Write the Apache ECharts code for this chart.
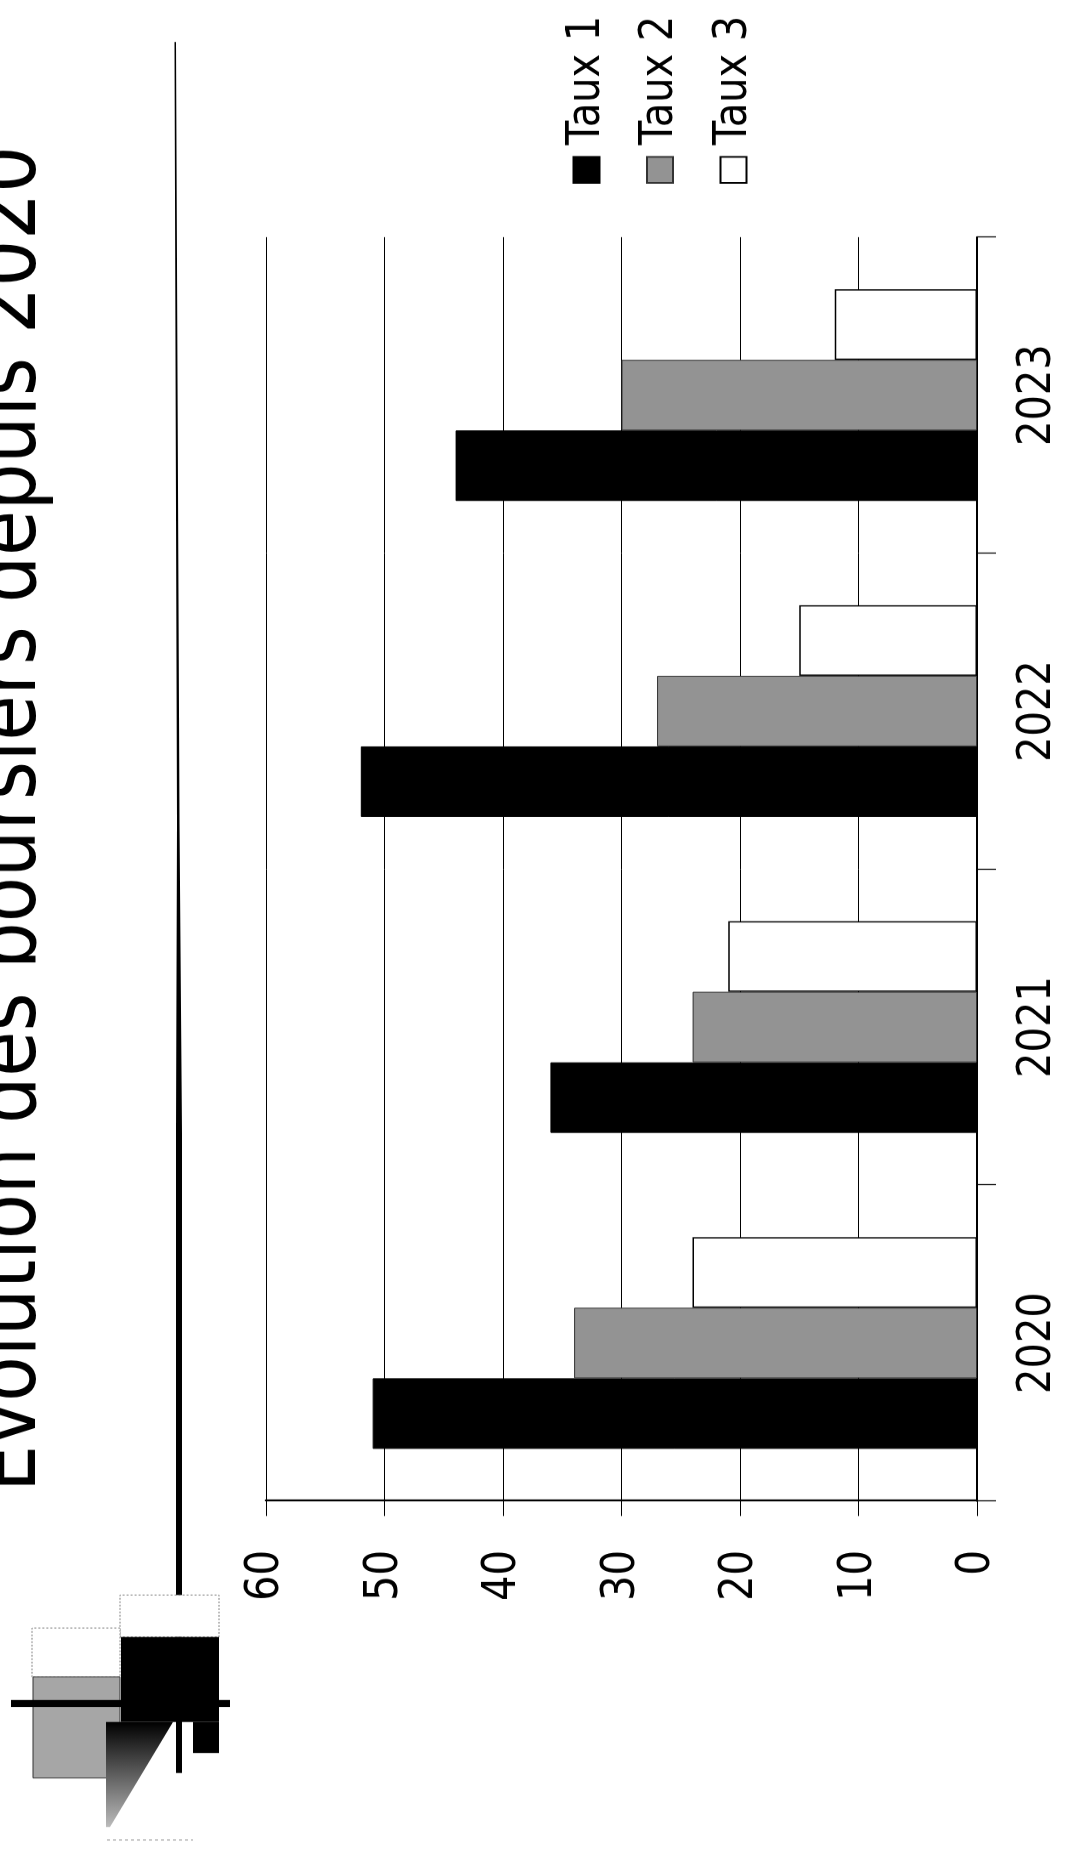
<!DOCTYPE html>
<html>
<head>
<meta charset="utf-8">
<title>Evolution des boursiers depuis 2020</title>
<script src="https://cdn.jsdelivr.net/npm/echarts@6/dist/echarts.min.js"></script>
<style>
    html, body {
        margin: 0;
        padding: 0;
        width: 1072px;
        height: 1854px;
        overflow: hidden;
        background: #fff;
    }
    /* the page is a scan turned a quarter turn, so the chart is drawn flat and rotated;
       scaleX narrows the lettering the way the scan shows it */
    #chart {
        position: absolute;
        left: 0;
        top: 1854px;
        width: 2181px;
        height: 1072px;
        transform-origin: 0 0;
        transform: rotate(-90deg) scaleX(0.85);
    }
</style>
</head>
<body>
<div id="chart"></div>
<script>
// data
const categories = ['2020', '2021', '2022', '2023']
const seriesNames = ['Taux 1', 'Taux 2', 'Taux 3']
const taux1 = [51, 36, 52, 44]
const taux2 = [34, 24, 27, 30]
const taux3 = [24, 21, 15, 12]
const titleText = 'Evolution des boursiers depuis 2020'

const SX = 0.85
const FONT = '"DejaVu Sans", sans-serif'
// horizontal distances are given as seen on the page, then undone for the scaleX
const sx = v => v / SX

let myChart = echarts.init(document.getElementById('chart'), null, { renderer: 'canvas' })

let option = {
    animation: false,
    backgroundColor: '#fff',
    title: {
        text: titleText,
        left: sx(362),
        top: -31,
        padding: 0,
        textStyle: {
            fontFamily: FONT,
            fontSize: 87,
            lineHeight: 87,
            fontWeight: 'normal',
            color: '#000'
        }
    },
    legend: {
        orient: 'vertical',
        left: sx(1666),
        top: 558,
        itemWidth: sx(26),
        itemHeight: 26,
        itemGap: 26.5,
        icon: 'rect',
        data: seriesNames,
        textStyle: {
            fontFamily: FONT,
            fontSize: 47,
            lineHeight: 47,
            color: '#000',
            padding: [0, 0, 0, 9]
        }
    },
    grid: {
        left: sx(353),
        right: sx(237),
        top: 266,
        bottom: 95,
        containLabel: false
    },
    xAxis: {
        type: 'category',
        data: categories,
        boundaryGap: true,
        axisLine: {
            show: true,
            lineStyle: { color: '#000', width: 2 }
        },
        axisTick: {
            show: true,
            length: 19,
            lineStyle: { color: '#000', width: 1.3 }
        },
        axisLabel: {
            margin: 37,
            fontFamily: FONT,
            fontSize: 47,
            color: '#000'
        },
        splitLine: { show: false }
    },
    yAxis: {
        type: 'value',
        min: 0,
        max: 60,
        interval: 10,
        axisLine: {
            show: true,
            lineStyle: { color: '#000', width: 2.3 }
        },
        axisTick: {
            show: true,
            length: sx(15),
            lineStyle: { color: '#000', width: 1 }
        },
        axisLabel: {
            margin: sx(49),
            fontFamily: FONT,
            fontSize: 47,
            color: '#000'
        },
        splitLine: {
            show: true,
            lineStyle: { color: '#000', width: 1 }
        }
    },
    series: [
        {
            name: seriesNames[0],
            type: 'bar',
            data: taux1,
            barGap: '0%',
            barCategoryGap: '33%',
            itemStyle: { color: '#000', borderColor: '#000', borderWidth: 1 }
        },
        {
            name: seriesNames[1],
            type: 'bar',
            data: taux2,
            barGap: '0%',
            barCategoryGap: '33%',
            itemStyle: { color: '#939393', borderColor: '#333', borderWidth: 1 }
        },
        {
            name: seriesNames[2],
            type: 'bar',
            data: taux3,
            barGap: '0%',
            barCategoryGap: '33%',
            itemStyle: { color: '#fff', borderColor: '#000', borderWidth: 1.5 }
        }
    ],
    // rule under the title and the small logo in the corner of the page
    graphic: [
        {
            type: 'polygon',
            silent: true,
            shape: {
                points: [
                    [sx(81), 176], [sx(720), 176], [sx(1031), 177], [sx(1812), 174.5],
                    [sx(1812), 176], [sx(1031), 179.5], [sx(720), 182], [sx(81), 182]
                ]
            },
            style: { fill: '#000' }
        },
        {
            type: 'rect',
            silent: true,
            shape: { x: sx(217), y: 120, width: sx(42), height: 99 },
            style: { fill: '#fff', stroke: '#777', lineWidth: 1, lineDash: [2, 2] }
        },
        {
            type: 'rect',
            silent: true,
            shape: { x: sx(177), y: 32, width: sx(49), height: 88 },
            style: { fill: '#fff', stroke: '#777', lineWidth: 1, lineDash: [2, 2] }
        },
        {
            type: 'rect',
            silent: true,
            shape: { x: sx(76), y: 33, width: sx(101), height: 87 },
            style: { fill: '#a6a6a6', stroke: '#333', lineWidth: 1 }
        },
        {
            type: 'polygon',
            silent: true,
            shape: {
                points: [[sx(132), 106], [sx(132), 173], [sx(27), 110], [sx(27), 106]]
            },
            style: {
                fill: new echarts.graphic.LinearGradient(1, 0, 0, 0, [
                    { offset: 0, color: '#000' },
                    { offset: 1, color: '#bbb' }
                ])
            }
        },
        {
            type: 'rect',
            silent: true,
            shape: { x: sx(132), y: 121, width: sx(85), height: 98 },
            style: { fill: '#000' }
        },
        {
            type: 'rect',
            silent: true,
            shape: { x: sx(101), y: 193, width: sx(31), height: 26 },
            style: { fill: '#000' }
        },
        {
            type: 'rect',
            silent: true,
            shape: { x: sx(147), y: 11, width: sx(7), height: 219 },
            style: { fill: '#000' }
        },
        {
            type: 'line',
            silent: true,
            shape: { x1: sx(14), y1: 107, x2: sx(14), y2: 193 },
            style: { stroke: '#888', lineWidth: 1, lineDash: [3, 3] }
        }
    ]
}

if (option && typeof option === 'object') {
    myChart.setOption(option, true)
}
</script>
</body>
</html>
